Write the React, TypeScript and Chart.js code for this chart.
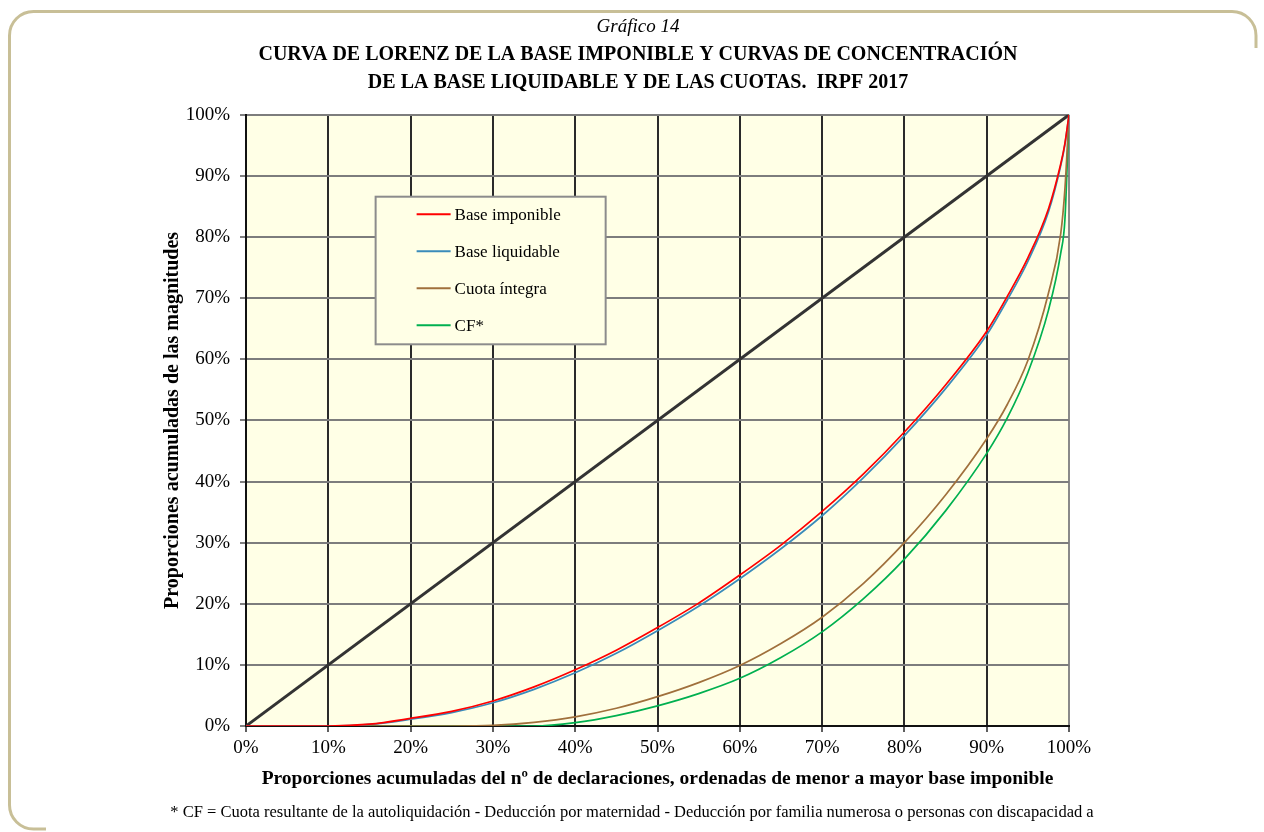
import React, { useEffect, useRef } from "react";
import { Chart, registerables } from "chart.js";

Chart.register(...registerables);

const FONT = "'Liberation Serif', 'Times New Roman', serif";

// Cumulative share of declarations (%)
const xPoints = [0, 5, 10, 15, 20, 25, 30, 35, 40, 45, 50, 55, 60, 65, 70, 75, 80, 85, 90, 92.5, 95, 97.5, 99, 99.5, 100];
// Cumulative share of each magnitude (%)
const baseImponible = [0, 0, 0, 0.3, 1.25, 2.4, 4.1, 6.4, 9.2, 12.4, 16.1, 20.1, 24.7, 29.6, 35.1, 41.2, 48.1, 55.8, 64.6, 70.3, 76.6, 84.6, 92.0, 95.3, 100];
const baseLiquidable = [0, 0, 0, 0.25, 1.1, 2.2, 3.8, 6.0, 8.7, 11.9, 15.6, 19.6, 24.1, 29.0, 34.4, 40.6, 47.5, 55.2, 64.0, 69.7, 76.0, 84.1, 91.7, 95.1, 100];
const cuotaIntegra = [0, 0, 0, 0, 0, 0, 0.1, 0.6, 1.5, 2.9, 4.8, 7.1, 9.9, 13.5, 17.8, 23.3, 30.0, 37.8, 47.0, 52.6, 59.8, 70.8, 80.6, 87.8, 100];
const cuotaCF = [0, 0, 0, 0, 0, 0, 0, 0, 0.55, 1.7, 3.3, 5.3, 7.8, 11.2, 15.4, 20.8, 27.3, 35.2, 44.6, 50.4, 57.8, 68.0, 77.4, 82.8, 100];
// Line of perfect equality
const equalityX = [0, 100];
const equalityY = [0, 100];

const seriesLabels = ["Base imponible", "Base liquidable", "Cuota íntegra", "CF*"];
const seriesColors = ["#FF0000", "#3A8BBA", "#A0703C", "#00B050"];

const titleText = "Gráfico 14";
const subtitleLines = [
  "CURVA DE LORENZ DE LA BASE IMPONIBLE Y CURVAS DE CONCENTRACIÓN",
  "DE LA BASE LIQUIDABLE Y DE LAS CUOTAS.  IRPF 2017",
];
const xTitle = "Proporciones acumuladas del nº de declaraciones, ordenadas de menor a mayor base imponible";
const yTitle = "Proporciones acumuladas de las magnitudes";
const footnote =
  "* CF = Cuota resultante de la autoliquidación - Deducción por maternidad - Deducción por familia numerosa o personas con discapacidad a";

const toPoints = (xs: number[], ys: number[]) => xs.map((x, i) => ({ x, y: ys[i] }));

const bgPlugin = {
  id: "plotBg",
  beforeDraw(chart: any) {
    const { ctx, chartArea } = chart;
    ctx.save();
    ctx.fillStyle = "#FFFFE6";
    ctx.fillRect(chartArea.left, chartArea.top, chartArea.right - chartArea.left, chartArea.bottom - chartArea.top);
    ctx.restore();
  },
};

const legendBoxPlugin = {
  id: "legendBox",
  afterDatasetsDraw(chart: any) {
    const { ctx } = chart;
    const xs = chart.scales.x;
    const ys = chart.scales.y;
    const left = xs.getPixelForValue(15.75);
    const right = xs.getPixelForValue(43.7);
    const top = ys.getPixelForValue(86.6);
    const bottom = ys.getPixelForValue(62.45);
    ctx.save();
    ctx.fillStyle = "#FFFFE6";
    ctx.fillRect(left, top, right - left, bottom - top);
    ctx.strokeStyle = "#8C8C8C";
    ctx.lineWidth = 2;
    ctx.strokeRect(left, top, right - left, bottom - top);
    ctx.font = `17px ${FONT}`;
    ctx.textBaseline = "middle";
    ctx.textAlign = "left";
    const n = seriesLabels.length;
    for (let i = 0; i < n; i++) {
      const ds = chart.data.datasets[i];
      const cy = top + 17.5 + i * 37;
      ctx.strokeStyle = ds.borderColor;
      ctx.lineWidth = 2;
      ctx.beginPath();
      ctx.moveTo(left + 41, cy);
      ctx.lineTo(left + 75, cy);
      ctx.stroke();
      ctx.fillStyle = "#000";
      ctx.fillText(ds.label, left + 79, cy + 1);
    }
    ctx.restore();
  },
};

export default function App() {
  const canvasRef = useRef<HTMLCanvasElement | null>(null);

  useEffect(() => {
    if (!canvasRef.current) return;
    Chart.defaults.font.family = FONT;
    const curves = [baseImponible, baseLiquidable, cuotaIntegra, cuotaCF];
    const datasets: any[] = curves.map((vals, i) => ({
      label: seriesLabels[i],
      data: toPoints(xPoints, vals),
      borderColor: seriesColors[i],
      backgroundColor: seriesColors[i],
      borderWidth: 1.7,
      pointRadius: 0,
      cubicInterpolationMode: "monotone",
      fill: false,
    }));
    datasets.push({
      label: "Igualdad",
      data: toPoints(equalityX, equalityY),
      borderColor: "#333333",
      backgroundColor: "#333333",
      borderWidth: 3,
      pointRadius: 0,
      fill: false,
    });

    const chart = new Chart(canvasRef.current, {
      type: "line",
      data: { datasets },
      plugins: [bgPlugin, legendBoxPlugin],
      options: {
        responsive: false,
        animation: false,
        layout: { padding: { left: 150, right: 138, top: 12, bottom: 41 } },
        plugins: {
          legend: { display: false },
          tooltip: { enabled: false },
          title: {
            display: true,
            text: titleText,
            color: "#000",
            font: { family: FONT, size: 19, style: "italic", weight: "normal" },
            padding: { top: 4, bottom: 2 },
          },
          subtitle: {
            display: true,
            text: subtitleLines,
            color: "#000",
            font: { family: FONT, size: 20, weight: "bold", lineHeight: 1.4 },
            padding: { top: 0, bottom: 18 },
          },
        },
        scales: {
          x: {
            type: "linear",
            min: 0,
            max: 100,
            afterFit: (s: any) => {
              s.height = 65;
            },
            ticks: {
              stepSize: 10,
              autoSkip: false,
              maxRotation: 0,
              padding: 5,
              color: "#000",
              font: { family: FONT, size: 19 },
              callback: (v: any) => `${v}%`,
            },
            grid: {
              color: (c: any) => (c.tick && c.tick.value === 100 ? "#8A8A8A" : "#2A2A2A"),
              lineWidth: 2,
              tickLength: 6,
              tickColor: "#2A2A2A",
              tickWidth: 1.5,
            },
            border: { color: "#111", width: 2 },
            title: {
              display: true,
              text: xTitle,
              color: "#000",
              font: { family: FONT, size: 19.5, weight: "bold" },
              padding: { top: 4, bottom: 0 },
            },
          },
          y: {
            type: "linear",
            min: 0,
            max: 100,
            afterFit: (s: any) => {
              s.width = 96;
            },
            ticks: {
              stepSize: 10,
              padding: 10,
              color: "#000",
              font: { family: FONT, size: 19 },
              callback: (v: any) => `${v}%`,
            },
            grid: {
              color: "#7D7D7D",
              lineWidth: 2,
              tickLength: 6,
              tickColor: "#555",
              tickWidth: 1.5,
            },
            border: { color: "#111", width: 2 },
            title: {
              display: true,
              text: yTitle,
              color: "#000",
              font: { family: FONT, size: 20, weight: "bold" },
              padding: { top: 11, bottom: 0 },
            },
          },
          y2: {
            type: "linear",
            position: "right",
            display: true,
            afterFit: (s: any) => {
              s.width = 57;
            },
            grid: { display: false, drawOnChartArea: false },
            ticks: { display: false },
            border: { display: false },
          },
        },
      } as any,
    });
    return () => chart.destroy();
  }, []);

  return (
    <div style={{ position: "absolute", left: 0, top: 0, width: 1264, height: 832, background: "#fff" }}>
      <svg width={1264} height={832} style={{ position: "absolute", left: 0, top: 0 }}>
        <path
          d="M 1256 48 L 1256 35.5 A 24 24 0 0 0 1232 11.5 L 33.5 11.5 A 24 24 0 0 0 9.5 35.5 L 9.5 805 A 24 24 0 0 0 33.5 829 L 46 829"
          fill="none"
          stroke="#C8BF97"
          strokeWidth={3}
        />
      </svg>
      <canvas ref={canvasRef} width={1264} height={832} style={{ position: "absolute", left: 0, top: 0 }} />
      <div
        style={{
          position: "absolute",
          left: 0,
          top: 802,
          width: 1264,
          textAlign: "center",
          fontFamily: FONT,
          fontSize: 16.5,
          lineHeight: "20px",
          color: "#000",
        }}
      >
        {footnote}
      </div>
    </div>
  );
}
